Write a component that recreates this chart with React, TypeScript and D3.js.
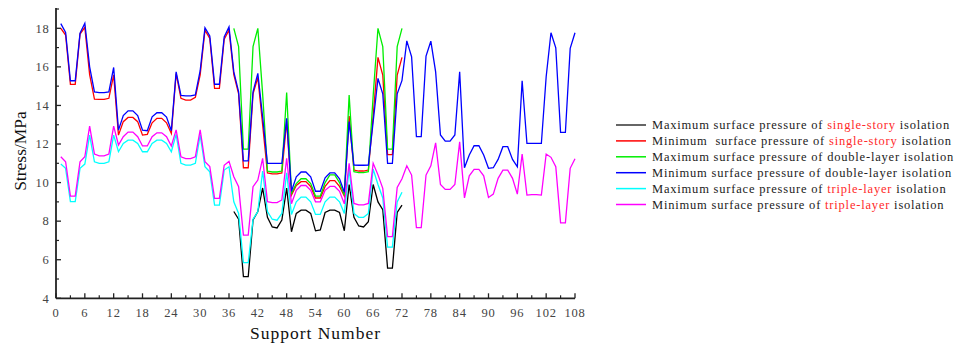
import React from "react";
import * as d3 from "d3";

// ---------- data ----------
const maxSingleStart = 37;
const maxSingle = [8.5, 8.1, 5.12, 5.12, 8.06, 8.5, 9.72, 8.2, 7.7, 7.65, 8.06, 9.72,
  7.45, 8.4, 8.57, 8.57, 8.4, 7.5, 7.55, 8.45, 8.57, 8.57, 8.45, 7.5,
  9.9, 8.2, 7.75, 7.7, 7.97, 9.9, 9.0, 8.6, 5.56, 5.56, 8.45, 8.83];

const minSingleStart = 1;
const minSingle = [18.0, 17.65, 15.09, 15.09, 17.7, 18.05, 15.6, 14.33, 14.31, 14.31, 14.37, 15.58,
  12.46, 13.16, 13.38, 13.38, 13.16, 12.46, 12.5, 13.1, 13.33, 13.33, 13.1, 12.55,
  15.65, 14.37, 14.28, 14.28, 14.42, 15.58, 17.9, 17.48, 14.88, 14.88, 17.43, 17.9,
  15.6, 14.6, 10.77, 10.77, 14.6, 15.45, 13.0, 10.5, 10.45, 10.45, 10.5, 13.2,
  9.35, 9.85, 10.05, 10.05, 9.8, 9.2, 9.2, 9.8, 10.1, 10.1, 9.8, 9.3,
  13.45, 10.65, 10.6, 10.6, 10.65, 13.45, 16.49, 15.57, 11.45, 11.45, 15.57, 16.49];

const maxDoubleStart = 37;
const maxDouble = [18.0, 17.05, 11.74, 11.74, 17.05, 18.0, 14.6, 10.6, 10.55, 10.55, 10.6, 14.67,
  9.45, 9.95, 10.2, 10.2, 9.95, 9.3, 9.3, 10.0, 10.4, 10.4, 10.0, 9.35,
  14.54, 10.57, 10.52, 10.52, 10.57, 14.5, 18.0, 17.05, 11.74, 11.74, 17.05, 18.0];

const minDoubleStart = 1;
const minDouble = [18.24, 17.78, 15.28, 15.28, 17.75, 18.26, 16.0, 14.7, 14.66, 14.66, 14.7, 15.97,
  12.72, 13.47, 13.72, 13.72, 13.47, 12.72, 12.69, 13.41, 13.62, 13.62, 13.4, 12.69,
  15.74, 14.52, 14.5, 14.5, 14.55, 15.8, 18.03, 17.6, 15.1, 15.1, 17.55, 18.07,
  15.74, 14.7, 11.13, 11.13, 14.71, 15.66, 13.4, 11.0, 11.0, 11.0, 11.0, 13.33,
  9.55, 10.3, 10.55, 10.55, 10.3, 9.55, 9.55, 10.25, 10.5, 10.5, 10.2, 9.5,
  13.16, 10.91, 10.9, 10.9, 10.91, 13.16, 15.4, 14.6, 11.0, 11.0, 14.6, 15.3,
  17.35, 16.52, 12.38, 12.38, 16.56, 17.33, 15.74, 12.47, 12.15, 12.15, 12.47, 15.74,
  10.77, 11.43, 11.91, 11.91, 11.43, 10.74, 10.77, 11.2, 11.86, 11.86, 11.2, 10.82,
  15.28, 12.03, 12.03, 12.03, 12.03, 15.49, 17.77, 16.99, 12.6, 12.6, 16.96, 17.77];

const maxTripleStart = 1;
const maxTriple = [10.96, 10.74, 9.01, 9.01, 10.74, 10.96, 12.46, 11.08, 11.0, 11.0, 11.08, 12.46,
  11.6, 12.03, 12.2, 12.2, 12.03, 11.6, 11.6, 12.03, 12.2, 12.2, 12.03, 11.6,
  12.5, 11.0, 10.91, 10.91, 11.0, 12.46, 10.82, 10.56, 8.83, 8.83, 10.65, 10.82,
  9.0, 8.4, 5.85, 5.85, 8.1, 8.5, 10.6, 8.5, 8.1, 8.05, 8.4, 10.5,
  8.35, 9.0, 9.25, 9.25, 9.0, 8.35, 8.35, 9.0, 9.25, 9.25, 9.0, 8.4,
  10.7, 8.4, 8.2, 8.2, 8.4, 10.7, 9.9, 9.2, 6.65, 6.65, 9.0, 9.5];

const minTripleStart = 1;
const minTriple = [11.34, 11.08, 9.3, 9.3, 11.08, 11.34, 12.93, 11.48, 11.39, 11.39, 11.48, 12.93,
  11.95, 12.38, 12.62, 12.62, 12.38, 11.9, 11.9, 12.38, 12.58, 12.58, 12.38, 11.9,
  12.73, 11.34, 11.24, 11.24, 11.34, 12.73, 11.08, 10.83, 9.18, 9.18, 10.9, 11.1,
  10.3, 9.79, 7.28, 7.28, 9.79, 10.13, 11.26, 9.01, 8.96, 8.96, 9.1, 11.26,
  8.9, 9.6, 9.85, 9.85, 9.6, 9.0, 9.0, 9.6, 9.8, 9.8, 9.55, 8.9,
  11.0, 8.92, 8.84, 8.84, 8.92, 11.0, 10.4, 9.7, 7.2, 7.2, 9.75, 10.2,
  10.87, 10.39, 7.66, 7.66, 10.39, 10.87, 12.06, 9.9, 9.65, 9.65, 9.9, 12.11,
  9.21, 10.35, 10.68, 10.68, 10.35, 9.23, 9.4, 10.22, 10.65, 10.65, 10.22, 9.4,
  11.48, 9.35, 9.38, 9.38, 9.35, 11.48, 11.31, 10.82, 7.91, 7.91, 10.74, 11.24];

const xTicks = [0, 6, 12, 18, 24, 30, 36, 42, 48, 54, 60, 66, 72, 78, 84, 90, 96, 102, 108];
const yTicks = [4, 6, 8, 10, 12, 14, 16, 18];

const legendItems = [
  { pre: "Maximum surface pressure of ", hl: "single-story", post: " isolation" },
  { pre: "Minimum  surface pressure of ", hl: "single-story", post: " isolation" },
  { pre: "Maximum surface pressure of double-layer isolation", hl: "", post: "" },
  { pre: "Minimum surface pressure of double-layer isolation", hl: "", post: "" },
  { pre: "Maximum surface pressure of ", hl: "triple-layer", post: " isolation" },
  { pre: "Minimum surface pressure of ", hl: "triple-layer", post: " isolation" },
];

const series = [
  { start: maxSingleStart, values: maxSingle, color: "#000000" },
  { start: minSingleStart, values: minSingle, color: "#ff0000" },
  { start: maxDoubleStart, values: maxDouble, color: "#00ee00" },
  { start: minDoubleStart, values: minDouble, color: "#0000ff" },
  { start: maxTripleStart, values: maxTriple, color: "#00ffff" },
  { start: minTripleStart, values: minTriple, color: "#ff00ff" },
];

const FONT = "'Liberation Serif', 'Times New Roman', serif";

export default function App() {
  const x = d3.scaleLinear().domain([0, 108]).range([56, 575]);
  const y = d3.scaleLinear().domain([4, 18]).range([298.3, 28.3]);
  const line = d3
    .line<[number, number]>()
    .x((d) => x(d[0]))
    .y((d) => y(d[1]));

  const minorX = d3.range(3, 108, 6);
  const minorY = d3.range(5, 20, 2);
  const axisColor = "#222";
  const labelColor = "#444";

  return (
    <svg
      width={962}
      height={349}
      style={{ position: "absolute", left: 0, top: 0, background: "#fff" }}
      fontFamily={FONT}
    >
      {/* series */}
      {series.map((s, i) => (
        <path
          key={i}
          d={line(s.values.map((v, k) => [s.start + k, v] as [number, number])) || ""}
          fill="none"
          stroke={s.color}
          strokeWidth={1.3}
          strokeLinejoin="miter"
        />
      ))}

      {/* axes */}
      <line x1={x(0)} x2={x(108)} y1={y(4)} y2={y(4)} stroke={axisColor} strokeWidth={1.8} />
      <line x1={x(0)} x2={x(0)} y1={y(4)} y2={y(19.05)} stroke={axisColor} strokeWidth={1.8} />
      {xTicks.map((t) => (
        <g key={"xt" + t}>
          <line x1={x(t)} x2={x(t)} y1={y(4)} y2={y(4) - 5} stroke={axisColor} strokeWidth={1.3} />
          <text
            x={x(t)}
            y={316.5}
            textAnchor="middle"
            fontSize={12.5}
            letterSpacing={0.8}
            fill={labelColor}
          >
            {t}
          </text>
        </g>
      ))}
      {minorX.map((t) => (
        <line key={"xm" + t} x1={x(t)} x2={x(t)} y1={y(4)} y2={y(4) - 3} stroke={axisColor} strokeWidth={1.2} />
      ))}
      {yTicks.map((t) => (
        <g key={"yt" + t}>
          <line x1={x(0)} x2={x(0) + 5} y1={y(t)} y2={y(t)} stroke={axisColor} strokeWidth={1.3} />
          <text
            x={49.5}
            y={y(t) + 4.3}
            textAnchor="end"
            fontSize={12.5}
            letterSpacing={0.8}
            fill={labelColor}
          >
            {t}
          </text>
        </g>
      ))}
      {minorY.map((t) => (
        <line key={"ym" + t} x1={x(0)} x2={x(0) + 3} y1={y(t)} y2={y(t)} stroke={axisColor} strokeWidth={1.2} />
      ))}

      {/* axis titles */}
      <text
        x={(x(0) + x(108)) / 2}
        y={338.5}
        textAnchor="middle"
        fontSize={17.5}
        letterSpacing={1}
        fill="#111"
      >
        Support Number
      </text>
      <text
        transform={`translate(26,151) rotate(-90)`}
        textAnchor="middle"
        fontSize={17.5}
        fill="#111"
      >
        Stress/MPa
      </text>

      {/* legend */}
      {legendItems.map((it, i) => {
        const cy = 125 + i * 15.9;
        return (
          <g key={"lg" + i}>
            <line x1={616} x2={646} y1={cy} y2={cy} stroke={series[i].color === "#000000" ? "#333" : series[i].color} strokeWidth={1.5} />
            <text
              x={652}
              y={cy + 4.3}
              fontSize={12.5}
              letterSpacing={0.8}
              fill="#222"
              style={{ whiteSpace: "pre" }}
            >
              {it.pre}
              {it.hl ? <tspan fill="#ff2a2a">{it.hl}</tspan> : null}
              {it.post}
            </text>
          </g>
        );
      })}
    </svg>
  );
}
